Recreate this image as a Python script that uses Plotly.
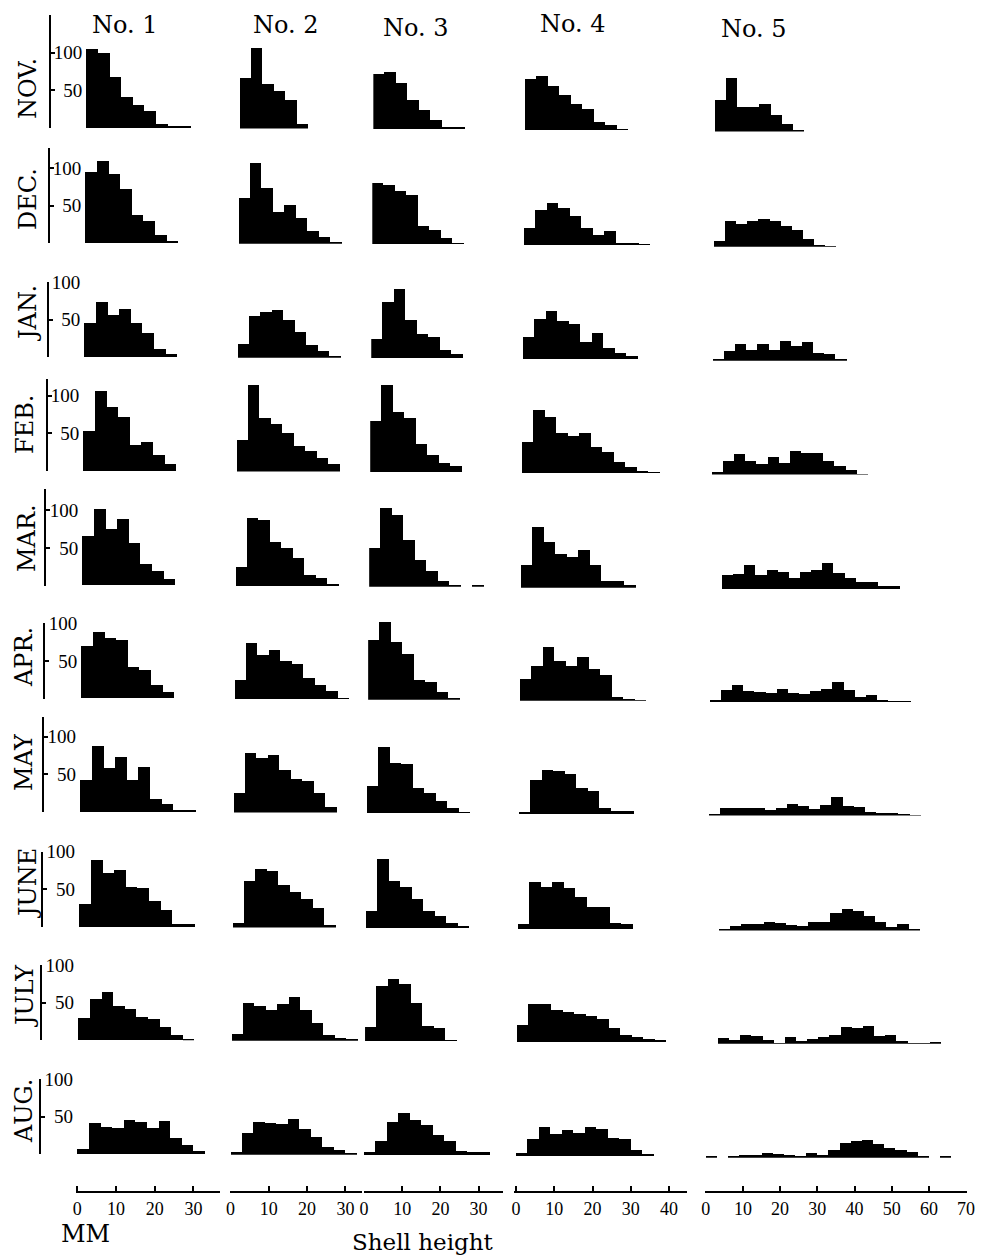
import plotly.graph_objects as go

# ---------------- data (counts per 3-mm shell-height class, first class = 0-3 mm) ----------------
MONTHS = ["NOV.", "DEC.", "JAN.", "FEB.", "MAR.", "APR.", "MAY", "JUNE", "JULY", "AUG."]
STATIONS = ["No. 1", "No. 2", "No. 3", "No. 4", "No. 5"]
BIN_WIDTH_MM = 3

NO1_COUNTS = [
    [105, 100, 68, 41, 31, 22, 5, 2, 2],
    [94, 109, 92, 72, 37, 29, 10, 2],
    [46, 74, 56, 64, 46, 32, 11, 4],
    [53, 106, 85, 71, 35, 38, 21, 9],
    [65, 101, 75, 88, 56, 28, 19, 8],
    [69, 88, 80, 77, 42, 38, 18, 8],
    [42, 88, 58, 73, 42, 59, 17, 11, 3, 3],
    [31, 90, 72, 76, 54, 52, 35, 23, 4, 4],
    [29, 55, 64, 46, 41, 31, 28, 18, 7, 2],
    [7, 41, 36, 35, 46, 43, 35, 44, 22, 12, 5],
]
NO2_COUNTS = [
    [68, 108, 60, 50, 38, 7],
    [61, 107, 74, 42, 52, 35, 17, 9, 3],
    [18, 56, 61, 64, 51, 35, 17, 9, 2],
    [42, 116, 72, 64, 52, 34, 28, 18, 11],
    [25, 90, 87, 59, 50, 37, 14, 11, 2],
    [25, 74, 59, 65, 50, 46, 28, 18, 11, 1],
    [26, 80, 73, 77, 57, 45, 42, 27, 8],
    [7, 62, 78, 75, 57, 48, 39, 27, 4],
    [9, 50, 47, 41, 49, 59, 41, 24, 8, 4, 2],
    [4, 29, 44, 43, 41, 48, 34, 24, 10, 7, 2],
]
NO3_COUNTS = [
    [73, 75, 61, 39, 25, 12, 2, 2],
    [81, 78, 70, 65, 24, 19, 8, 1],
    [25, 74, 91, 50, 32, 28, 10, 5],
    [68, 115, 79, 72, 37, 22, 12, 8],
    [52, 105, 95, 63, 36, 21, 8, 3, 0, 3],
    [79, 103, 77, 61, 27, 24, 11, 2],
    [36, 88, 67, 65, 33, 27, 16, 7, 1],
    [23, 92, 63, 54, 39, 23, 16, 6, 3],
    [18, 73, 82, 75, 50, 20, 17, 1],
    [4, 18, 44, 56, 47, 40, 27, 18, 5, 4, 4],
]
NO4_COUNTS = [
    [68, 72, 59, 47, 34, 28, 11, 6, 1],
    [22, 47, 56, 49, 38, 22, 13, 19, 3, 2, 1],
    [29, 53, 64, 51, 47, 22, 34, 14, 8, 4],
    [41, 84, 74, 53, 49, 53, 34, 28, 15, 8, 2, 1],
    [30, 81, 61, 45, 41, 51, 30, 9, 9, 4],
    [29, 46, 71, 53, 46, 58, 43, 34, 5, 2, 1],
    [2, 45, 58, 57, 53, 35, 31, 8, 4, 4],
    [7, 62, 56, 62, 55, 43, 29, 29, 8, 6],
    [22, 50, 51, 43, 40, 37, 34, 31, 19, 9, 7, 4, 3],
    [4, 22, 39, 29, 35, 31, 39, 36, 24, 23, 8, 2],
]
NO5_COUNTS = [
    [43, 71, 33, 33, 37, 22, 10, 2],
    [8, 34, 31, 34, 37, 34, 28, 22, 11, 2, 1],
    [2, 13, 23, 14, 22, 15, 27, 20, 25, 11, 9, 3],
    [4, 19, 28, 19, 14, 24, 16, 32, 29, 29, 18, 12, 7, 1],
    [0, 18, 20, 32, 18, 25, 22, 15, 22, 25, 34, 21, 15, 9, 9, 4, 4],
    [3, 16, 22, 14, 13, 12, 17, 12, 11, 14, 17, 27, 16, 6, 9, 3, 1, 1],
    [3, 10, 10, 10, 10, 8, 10, 16, 13, 9, 15, 25, 13, 12, 5, 4, 4, 2, 1],
    [0, 3, 6, 9, 9, 12, 10, 8, 7, 12, 12, 24, 29, 27, 20, 12, 5, 9, 2],
    [0, 8, 5, 12, 11, 5, 1, 9, 4, 7, 9, 12, 22, 21, 24, 10, 12, 4, 1, 1, 2],
    [3, 0, 3, 4, 4, 7, 5, 4, 3, 7, 4, 10, 20, 23, 24, 18, 13, 10, 8, 3, 0, 3],
]
STATION_COUNTS = [NO1_COUNTS, NO2_COUNTS, NO3_COUNTS, NO4_COUNTS, NO5_COUNTS]

Y_LABELLED_TICKS = [50, 100]
Y_AXIS_TOP = [150, 126, 100, 122, 128, 100, 126, 100, 100, 100]
X_TICKS = [
    [0, 10, 20, 30],
    [0, 10, 20, 30],
    [0, 10, 20, 30],
    [0, 10, 20, 30, 40],
    [0, 10, 20, 30, 40, 50, 60, 70],
]
X_TITLE = "Shell height"
X_UNIT = "MM"

# ---------------- geometry (pixels in the 983 x 1256 window) ----------------
W, H = 983, 1256
PAGE_OFF = 8          # default body margin of the page
FIG_W, FIG_H = W - PAGE_OFF, H - PAGE_OFF
PX_PER_COUNT = 0.753
ROW_BASE = [128, 243.3, 357.3, 471, 585.7, 698.7, 812, 927, 1040.3, 1154.3]
COL_BASE_OFF = [0, 0.5, 1, 2, 3.5]
SKEW = 0.0091
COL_LINE = [(76, 220), (230, 362), (364, 503), (514, 687), (705, 967)]
COL_ZERO = [77.3, 230.5, 364, 516, 705.7]
COL_PX_PER_MM = [3.87, 3.83, 3.82, 3.825, 3.72]
YAXIS_X_BOTTOM = 40.3
BOTTOM_AXIS_Y = 1192
OTHER_COL_TOP = 150

TITLE_POS = [(125, 24.5), (286, 24.5), (416, 27.5), (573, 24), (754, 29)]
MONTH_POS = [(28, 89), (28, 199), (28, 314), (25, 425), (27, 538),
             (24, 657), (24, 762), (28, 884), (25, 996), (24, 1111)]

SERIF = "DejaVu Serif, Liberation Serif, serif"
NUM_FONT = "Liberation Serif, Times New Roman, serif"


def px_x(p):
    return (p - PAGE_OFF) / FIG_W


def px_y(p):
    return 1 - (p - PAGE_OFF) / FIG_H


fig = go.Figure()
layout = dict(
    width=FIG_W, height=FIG_H, margin=dict(l=0, r=0, t=0, b=0),
    template="none", paper_bgcolor="white", plot_bgcolor="rgba(0,0,0,0)",
    showlegend=False, bargap=0,
)

for r in range(len(MONTHS)):
    shift = (ROW_BASE[-1] - ROW_BASE[r]) * SKEW
    for c in range(len(STATIONS)):
        k = r * len(STATIONS) + c + 1
        xa = "x" if k == 1 else f"x{k}"
        ya = "y" if k == 1 else f"y{k}"
        counts = STATION_COUNTS[c][r]
        centers = [BIN_WIDTH_MM * (i + 0.5) for i in range(len(counts))]
        fig.add_trace(go.Bar(
            x=centers, y=counts, width=BIN_WIDTH_MM,
            marker=dict(color="black", line=dict(width=0)),
            xaxis=xa, yaxis=ya, hoverinfo="skip", showlegend=False,
        ))

        lx, rx = COL_LINE[c]
        z, s = COL_ZERO[c], COL_PX_PER_MM[c]
        xrange = [(lx - z) / s, (rx - z) / s]
        xdom = [px_x(lx + shift), px_x(rx + shift)]
        xkey = "xaxis" if k == 1 else f"xaxis{k}"
        ykey = "yaxis" if k == 1 else f"yaxis{k}"

        if r == len(MONTHS) - 1:
            layout[xkey] = dict(
                domain=xdom, range=xrange, anchor="free",
                position=px_y(BOTTOM_AXIS_Y),
                showline=True, linecolor="black", linewidth=2,
                ticks="inside", ticklen=5, tickwidth=2, tickcolor="black",
                tickvals=X_TICKS[c], ticktext=[str(v) for v in X_TICKS[c]],
                tickfont=dict(family=NUM_FONT, size=18, color="black"),
                ticklabeloverflow="allow",
                showgrid=False, zeroline=False, fixedrange=True,
            )
        else:
            layout[xkey] = dict(domain=xdom, range=xrange, visible=False,
                                anchor=ya, fixedrange=True)

        base = ROW_BASE[r] + COL_BASE_OFF[c]
        top = Y_AXIS_TOP[r] if c == 0 else OTHER_COL_TOP
        ydom = [px_y(base), px_y(base - top * PX_PER_COUNT)]
        if c == 0:
            tv = sorted(set([0] + Y_LABELLED_TICKS + [top]))
            tt = []
            for v in tv:
                if v in Y_LABELLED_TICKS:
                    tt.append(("\u00a0\u00a0" + str(v)) if v < 100 else str(v))
                else:
                    tt.append("")
            layout[ykey] = dict(
                domain=ydom, range=[0, top], anchor="free",
                position=px_x(YAXIS_X_BOTTOM + shift),
                showline=True, linecolor="black", linewidth=2,
                ticks="inside", ticklen=4, tickwidth=2, tickcolor="black",
                ticklabelposition="inside", ticklabeloverflow="allow",
                tickvals=tv, ticktext=tt,
                tickfont=dict(family=NUM_FONT, size=19, color="black"),
                showgrid=False, zeroline=False, fixedrange=True,
            )
        else:
            layout[ykey] = dict(domain=ydom, range=[0, top], visible=False,
                                anchor=xa, fixedrange=True)

annotations = []
for name, (x, y) in zip(STATIONS, TITLE_POS):
    annotations.append(dict(text=name, x=px_x(x), y=px_y(y), xref="paper", yref="paper",
                            showarrow=False, xanchor="center", yanchor="middle",
                            font=dict(family=SERIF, size=24, color="black")))
for name, (x, y) in zip(MONTHS, MONTH_POS):
    annotations.append(dict(text=name, x=px_x(x), y=px_y(y), xref="paper", yref="paper",
                            showarrow=False, xanchor="center", yanchor="middle", textangle=-90,
                            font=dict(family=SERIF, size=24, color="black")))
annotations.append(dict(text=X_UNIT, x=px_x(85), y=px_y(1234), xref="paper", yref="paper",
                        showarrow=False, xanchor="center", yanchor="middle",
                        font=dict(family=SERIF, size=24, color="black")))
annotations.append(dict(text=X_TITLE, x=px_x(423), y=px_y(1242), xref="paper", yref="paper",
                        showarrow=False, xanchor="center", yanchor="middle",
                        font=dict(family=SERIF, size=23, color="black")))
layout["annotations"] = annotations

fig.update_layout(**layout)
fig.write_html("out.html")
